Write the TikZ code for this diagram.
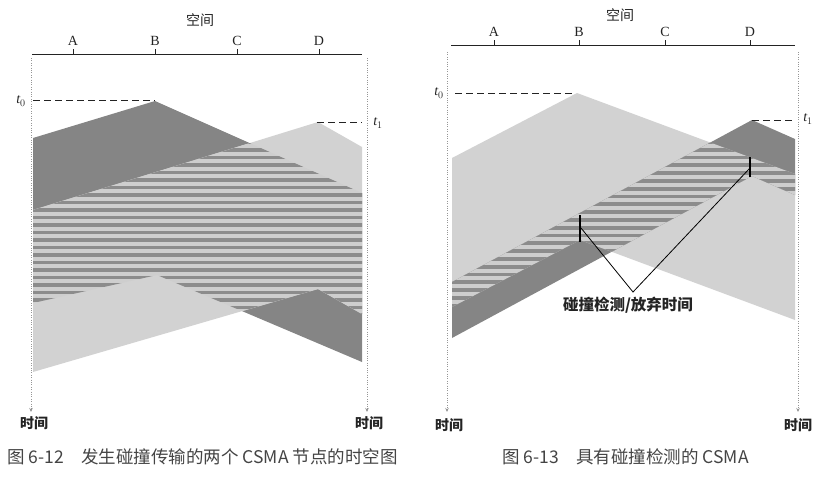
\documentclass[tikz,border=0pt]{standalone}
\usepackage{fontspec}
\setmainfont{Liberation Serif}
\newfontfamily\cjk{Noto Sans CJK SC}
\usetikzlibrary{arrows.meta}
\definecolor{dg}{RGB}{133,133,133}
\definecolor{lg}{RGB}{210,210,210}
\definecolor{sd}{RGB}{140,140,140}
\definecolor{sl}{RGB}{206,206,206}
\definecolor{ax}{RGB}{150,150,150}
\definecolor{txt}{RGB}{35,35,35}
\begin{document}
\begin{tikzpicture}[x=1pt,y=-1pt,
  every node/.style={inner sep=0pt,text=txt},
  lat/.style={font=\fontsize{14}{14}\selectfont},
  tlab/.style={font=\fontsize{14}{14}\selectfont\itshape},
  kj/.style={font=\cjk\fontsize{14}{14}\selectfont},
  kjb/.style={font=\cjk\bfseries\fontsize{14}{14}\selectfont},
  captext/.style={font=\cjk\fontsize{17.5}{18}\selectfont, anchor=west, text=txt!85},
  spaxis/.style={txt,line width=0.8pt},
  tickline/.style={txt,line width=0.8pt},
  tdash/.style={txt,line width=0.9pt,dash pattern=on 7pt off 4pt},
  taxis/.style={ax,line width=0.8pt,dash pattern=on 0.8pt off 1.6pt,-{Stealth[length=4pt,width=3.5pt]}},
  cdmark/.style={black,line width=2pt},
  conn/.style={black,line width=0.8pt}]
\useasboundingbox (0,0) rectangle (839,479);

% ---------------- left figure: regions
\fill[dg] (33,138)--(155,101)--(362,193)--(362,362)--(157,275)--(33,303)--cycle;
\fill[lg] (33,210)--(318,122)--(362,147)--(362,314)--(318,289)--(33,372)--cycle;
\begin{scope}
  \clip (33,138)--(155,101)--(362,193)--(362,362)--(157,275)--(33,303)--cycle;
  \clip (33,210)--(318,122)--(362,147)--(362,314)--(318,289)--(33,372)--cycle;
  \fill[sl] (30,100) rectangle (365,380);
  \foreach \k in {0,...,38} \fill[sd] (30,{118+7.5*\k}) rectangle (365,{121.8+7.5*\k});
\end{scope}

% ---------------- right figure: regions
\fill[lg] (452,158)--(577,93)--(795,174)--(795,320)--(580,240)--(452,307)--cycle;
\fill[dg] (452,282)--(752,120)--(795,139)--(795,195)--(752,176)--(452,338)--cycle;
\begin{scope}
  \clip (452,158)--(577,93)--(795,174)--(795,320)--(580,240)--(452,307)--cycle;
  \clip (452,282)--(752,120)--(795,139)--(795,195)--(752,176)--(452,338)--cycle;
  \fill[sl] (450,100) rectangle (800,350);
  \foreach \k in {0,...,34} \fill[sd] (450,{140+7.8*\k}) rectangle (800,{143.8+7.8*\k});
\end{scope}

% ---------------- left figure: axes and labels
\node[kj] (spL) at (200,20) {空间};
\coordinate (axL1) at (32,54);
\coordinate (axL2) at (362,54);
\draw[spaxis] (axL1)--(axL2);
\foreach \n/\x in {A/73,B/155,C/237,D/319}{
  \coordinate (tL\n) at (\x,54);
  \draw[tickline] (tL\n)--++(0,-5);
  \node[lat] (lL\n) at (\x,41) {\n};
}
\coordinate (tAL0) at (31,58);
\coordinate (tAL1) at (31,412);
\coordinate (tAR0) at (367,58);
\coordinate (tAR1) at (367,412);
\draw[taxis] (tAL0)--(tAL1);
\draw[taxis] (tAR0)--(tAR1);
\node[kjb] (timeL1) at (34,423) {时间};
\node[kjb] (timeL2) at (369,423) {时间};
\node[tlab] (t0L) at (21,101) {t$_0$};
\coordinate (d0L1) at (33,100);
\coordinate (d0L2) at (155,100);
\draw[tdash] (d0L1)--(d0L2);
\node[tlab] (t1L) at (378,123) {t$_1$};
\coordinate (d1L1) at (317,122);
\coordinate (d1L2) at (362,122);
\draw[tdash] (d1L1)--(d1L2);

% ---------------- right figure: axes and labels
\node[kj] (spR) at (620,15) {空间};
\coordinate (axR1) at (451,45);
\coordinate (axR2) at (795,45);
\draw[spaxis] (axR1)--(axR2);
\foreach \n/\x in {A/494,B/579,C/665,D/750}{
  \coordinate (tR\n) at (\x,45);
  \draw[tickline] (tR\n)--++(0,-5);
  \node[lat] (lR\n) at (\x,32) {\n};
}
\coordinate (tBL0) at (447,52);
\coordinate (tBL1) at (447,412);
\coordinate (tBR0) at (798,52);
\coordinate (tBR1) at (798,412);
\draw[taxis] (tBL0)--(tBL1);
\draw[taxis] (tBR0)--(tBR1);
\node[kjb] (timeR1) at (449,425) {时间};
\node[kjb] (timeR2) at (798,425) {时间};
\node[tlab] (t0R) at (439,93) {t$_0$};
\coordinate (d0R1) at (455,93);
\coordinate (d0R2) at (575,93);
\draw[tdash] (d0R1)--(d0R2);
\node[tlab] (t1R) at (808,119) {t$_1$};
\coordinate (d1R1) at (752,120);
\coordinate (d1R2) at (795,120);
\draw[tdash] (d1R1)--(d1R2);

% collision detection marks
\coordinate (mB1) at (580,215);
\coordinate (mB2) at (580,242);
\coordinate (mD1) at (750,157);
\coordinate (mD2) at (750,177);
\draw[cdmark] (mB1)--(mB2);
\draw[cdmark] (mD1)--(mD2);
\coordinate (mB) at (581,228);
\coordinate (mD) at (750,168);
\coordinate (apex) at (633,292);
\draw[conn] (mB)--(apex)--(mD);
\node[kjb, font=\cjk\bfseries\fontsize{15.5}{16}\selectfont] (lbl) at (628,305) {碰撞检测/放弃时间};

% captions
\node[captext] (capL) at (7,457) {图 6-12\quad 发生碰撞传输的两个 CSMA 节点的时空图};
\node[captext] (capR) at (502,457) {图 6-13\quad 具有碰撞检测的 CSMA};
\end{tikzpicture}
\end{document}
